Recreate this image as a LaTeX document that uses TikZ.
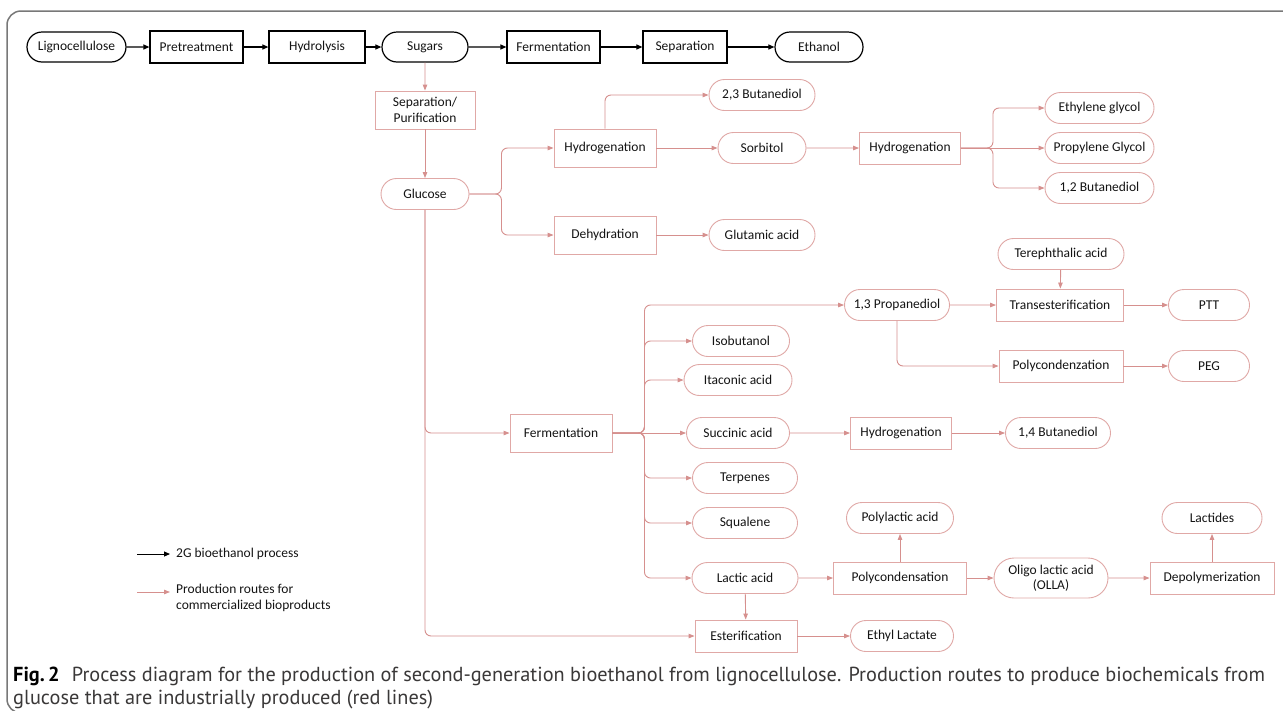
\documentclass[tikz,border=0pt]{standalone}
\usepackage{fontspec}
\setmainfont{Carlito}
\newfontfamily\capfont{PT Sans}
\usetikzlibrary{arrows.meta,shapes.misc,calc}
\definecolor{pk}{RGB}{214,144,142}
\definecolor{pkbox}{RGB}{224,168,166}
\definecolor{txt}{RGB}{20,20,20}
\definecolor{captxt}{RGB}{58,56,56}
\definecolor{framegray}{RGB}{120,120,120}
\begin{document}
\begin{tikzpicture}[x=1pt,y=-1pt,
  font=\fontsize{13.5}{16}\selectfont, text=txt,
  blkbox/.style={draw=black, line width=1.2pt, rectangle, minimum height=32pt, inner sep=2pt},
  blkend/.style={draw=black, line width=1.2pt, rounded rectangle, minimum height=30pt, inner sep=2pt},
  pkrect/.style={draw=pkbox, line width=0.9pt, rectangle, minimum height=32pt, inner sep=2pt},
  pkend/.style={draw=pkbox, line width=0.9pt, rounded rectangle, minimum height=31pt, inner sep=2pt},
  blkarr/.style={draw=black, line width=1.1pt, -{Triangle[length=6pt,width=5pt]}},
  pkarr/.style={draw=pk, line width=0.9pt, -{Triangle[length=6pt,width=4.5pt]}, rounded corners=6pt},
  captext/.style={anchor=base west, inner sep=0pt, font=\capfont\fontsize{20.3}{23}\selectfont, text=captxt}]
\fill[white] (0,0) rectangle (1283,710);
\useasboundingbox (0,0) rectangle (1283,710);
% frame
\draw[framegray, line width=1.5pt, rounded corners=14pt] (1300,11) -- (7,11) -- (7,713) -- (1300,713);

% top row
\node[blkend, minimum width=103pt] (ligno) at (76.5,47) {Lignocellulose};
\node[blkbox, minimum width=93pt] (pretr) at (196.5,47) {Pretreatment};
\node[blkbox, minimum width=96pt] (hydro) at (317,47) {Hydrolysis};
\node[blkend, minimum width=90pt] (sugars) at (425,47) {Sugars};
\node[blkbox, minimum width=93pt] (ferm1) at (553.5,47) {Fermentation};
\node[blkbox, minimum width=84pt] (sep1) at (685,47) {Separation};
\node[blkend, minimum width=92pt] (ethanol) at (819,47) {Ethanol};
\draw[blkarr] (ligno) -- (pretr);
\draw[blkarr] (pretr) -- (hydro);
\draw[blkarr] (hydro) -- (sugars);
\draw[blkarr] (sugars) -- (ferm1);
\draw[blkarr] (ferm1) -- (sep1);
\draw[blkarr] (sep1) -- (ethanol);

% glucose branch
\node[pkrect, minimum width=100pt, minimum height=38pt, align=center] (seppur) at (425,110) {Separation/\\Purification};
\node[pkend, minimum width=92pt] (glu) at (425,194) {Glucose};
\draw[pkarr] (sugars) -- (seppur);
\draw[pkarr] (seppur) -- (glu);

\node[pkrect, minimum width=102pt, minimum height=38pt] (hyd1) at (605,148) {Hydrogenation};
\node[pkrect, minimum width=102pt, minimum height=38pt] (dehyd) at (605,235) {Dehydration};
\node[pkend, minimum width=110pt] (bd23) at (762,95) {2,3 Butanediol};
\node[pkend, minimum width=92pt] (sorb) at (762,148) {Sorbitol};
\node[pkend, minimum width=110pt] (glut) at (762,235) {Glutamic acid};
\node[pkrect, minimum width=101pt] (hyd2) at (910,148) {Hydrogenation};
\node[pkend, minimum width=113pt] (eg) at (1099.5,108) {Ethylene glycol};
\node[pkend, minimum width=113pt] (pg) at (1099.5,148) {Propylene Glycol};
\node[pkend, minimum width=113pt] (bd12) at (1099.5,188) {1,2 Butanediol};

\draw[pkarr] (glu.east) -- ++(32,0) |- (hyd1.west);
\draw[pkarr] (glu.east) -- ++(32,0) |- (dehyd.west);
\draw[pkarr] (hyd1.north) |- (bd23.west);
\draw[pkarr] (hyd1) -- (sorb);
\draw[pkarr] (sorb) -- (hyd2);
\draw[pkarr] (dehyd) -- (glut);
\draw[pkarr] (hyd2.east) -- ++(32,0) |- (eg.west);
\draw[pkarr] (hyd2.east) -- (pg.west);
\draw[pkarr] (hyd2.east) -- ++(32,0) |- (bd12.west);

% fermentation branch
\node[pkrect, minimum width=102pt, minimum height=38pt] (ferm2) at (561,433) {Fermentation};
\node[pkend, minimum width=130pt] (tere) at (1061,254) {Terephthalic acid};
\node[pkend, minimum width=109pt] (prop) at (897,305) {1,3 Propanediol};
\node[pkrect, minimum width=127pt] (trans) at (1060,305) {Transesterification};
\node[pkend, minimum width=85pt] (ptt) at (1209,305) {PTT};
\node[pkrect, minimum width=124pt] (polyz) at (1061,366) {Polycondenzation};
\node[pkend, minimum width=85pt] (peg) at (1209,366) {PEG};
\node[pkend, minimum width=101pt] (iso) at (741,341) {Isobutanol};
\node[pkend, minimum width=112pt] (ita) at (738,380) {Itaconic acid};
\node[pkend, minimum width=107pt] (succ) at (738,433) {Succinic acid};
\node[pkrect, minimum width=101pt] (hyd3) at (901,433) {Hydrogenation};
\node[pkend, minimum width=109pt] (bd14) at (1058,433) {1,4 Butanediol};
\node[pkend, minimum width=109pt] (terp) at (745,478) {Terpenes};
\node[pkend, minimum width=109pt] (squa) at (745,523) {Squalene};
\node[pkend, minimum width=111pt] (pla) at (900,518) {Polylactic acid};
\node[pkend, minimum width=110pt] (lac) at (745,578) {Lactic acid};
\node[pkrect, minimum width=133pt] (polyc) at (900,578) {Polycondensation};
\node[pkend, minimum width=118pt, minimum height=40pt, align=center, font=\fontsize{13.5}{15}\selectfont] (olla) at (1051,578) {Oligo lactic acid\\(OLLA)};
\node[pkrect, minimum width=124pt] (depol) at (1212,578) {Depolymerization};
\node[pkend, minimum width=104pt] (lact) at (1212,518) {Lactides};
\node[pkrect, minimum width=102pt] (ester) at (746,636) {Esterification};
\node[pkend, minimum width=107pt] (ethyl) at (902,636) {Ethyl Lactate};

\draw[pkarr] (glu.south) |- (ferm2.west);
\draw[pkarr] (glu.south) |- (ester.west);
\draw[pkarr] (ferm2.east) -- ++(32,0) |- (prop.west);
\draw[pkarr] (ferm2.east) -- ++(32,0) |- (iso.west);
\draw[pkarr] (ferm2.east) -- ++(32,0) |- (ita.west);
\draw[pkarr] (ferm2.east) -- (succ.west);
\draw[pkarr] (ferm2.east) -- ++(32,0) |- (terp.west);
\draw[pkarr] (ferm2.east) -- ++(32,0) |- (squa.west);
\draw[pkarr] (ferm2.east) -- ++(32,0) |- (lac.west);
\draw[pkarr] (prop) -- (trans);
\draw[pkarr] (tere) -- (trans);
\draw[pkarr] (trans) -- (ptt);
\draw[pkarr] (prop.south) |- (polyz.west);
\draw[pkarr] (polyz) -- (peg);
\draw[pkarr] (succ) -- (hyd3);
\draw[pkarr] (hyd3) -- (bd14);
\draw[pkarr] (lac) -- (polyc);
\draw[pkarr] (polyc) -- (pla);
\draw[pkarr] (polyc) -- (olla);
\draw[pkarr] (olla) -- (depol);
\draw[pkarr] (depol) -- (lact);
\draw[pkarr] (lac) -- (ester);
\draw[pkarr] (ester) -- (ethyl);

% legend
\coordinate (lg1) at (137,554);
\node[anchor=west, inner xsep=6pt, inner ysep=0pt] (lt1) at (170,554) {2G bioethanol process};
\draw[blkarr, line width=0.9pt] (lg1) -- (lg1 -| lt1.west);
\coordinate (lg2) at (137,592);
\node[anchor=north west, inner xsep=6pt, inner ysep=0pt, align=left] (lt2) at (170,584) {Production routes for\\commercialized bioproducts};
\draw[pkarr] (lg2) -- (lg2 -| lt2.west);

% caption
\node[captext] (cap1) at (13,681) {\textbf{\color{black}Fig.\,2}\hspace{0.6em}Process diagram for the production of second-generation bioethanol from lignocellulose. Production routes to produce biochemicals from};
\node[captext] (cap2) at (13,704) {glucose that are industrially produced (red lines)};
\end{tikzpicture}
\end{document}
